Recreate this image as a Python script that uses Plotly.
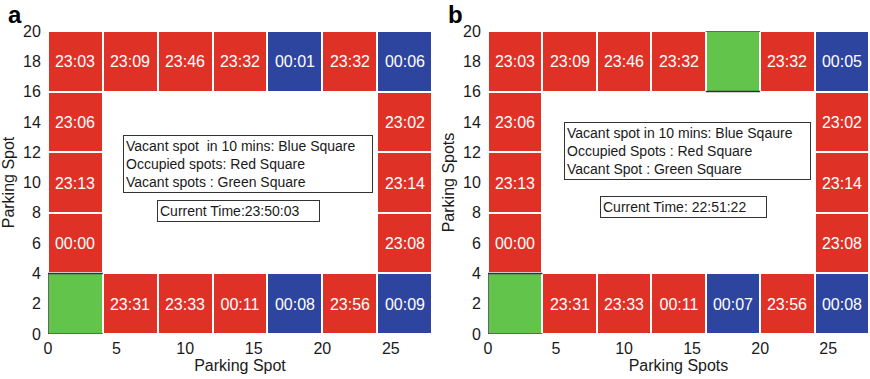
import plotly.graph_objects as go
from plotly.subplots import make_subplots

# ---------------- data ----------------
# grid of 5 rows (bottom -> top) x 7 columns (left -> right); None = no spot
col_centers = [2, 6, 10, 14, 18, 22, 26]
row_centers = [2, 6, 10, 14, 18]
CELL = 4
x_ticks = [0, 5, 10, 15, 20, 25]
y_ticks = [0, 2, 4, 6, 8, 10, 12, 14, 16, 18, 20]

# status: G = vacant (green), R = occupied (red), B = vacant in 10 mins (blue)
status_a = [
    ["G", "R", "R", "R", "B", "R", "B"],
    ["R", None, None, None, None, None, "R"],
    ["R", None, None, None, None, None, "R"],
    ["R", None, None, None, None, None, "R"],
    ["R", "R", "R", "R", "B", "R", "B"],
]
times_a = [
    ["", "23:31", "23:33", "00:11", "00:08", "23:56", "00:09"],
    ["00:00", "", "", "", "", "", "23:08"],
    ["23:13", "", "", "", "", "", "23:14"],
    ["23:06", "", "", "", "", "", "23:02"],
    ["23:03", "23:09", "23:46", "23:32", "00:01", "23:32", "00:06"],
]
status_b = [
    ["G", "R", "R", "R", "B", "R", "B"],
    ["R", None, None, None, None, None, "R"],
    ["R", None, None, None, None, None, "R"],
    ["R", None, None, None, None, None, "R"],
    ["R", "R", "R", "R", "G", "R", "B"],
]
times_b = [
    ["", "23:31", "23:33", "00:11", "00:07", "23:56", "00:08"],
    ["00:00", "", "", "", "", "", "23:08"],
    ["23:13", "", "", "", "", "", "23:14"],
    ["23:06", "", "", "", "", "", "23:02"],
    ["23:03", "23:09", "23:46", "23:32", "", "23:32", "00:05"],
]
legend_a = ["Vacant spot  in 10 mins: Blue Square", "Occupied spots: Red Square", "Vacant spots : Green Square"]
legend_b = ["Vacant spot in 10 mins: Blue Sqaure", "Occupied Spots : Red Square", "Vacant Spot : Green Square"]
time_a = "Current Time:23:50:03"
time_b = "Current Time: 22:51:22"
xtitle_a, ytitle_a = "Parking Spot", "Parking Spot"
xtitle_b, ytitle_b = "Parking Spots", "Parking Spots"

# ---------------- style ----------------
GREEN, RED, BLUE = "#62C44B", "#E03127", "#2E45A0"
code = {"G": 0, "R": 1, "B": 2}
cscale = [[0, GREEN], [0.25, GREEN], [0.25, RED], [0.75, RED], [0.75, BLUE], [1, BLUE]]
FONT = "Liberation Sans, Arial, Helvetica, sans-serif"

fig = make_subplots(rows=1, cols=2, horizontal_spacing=0.068)

def add_panel(status, times, col):
    z = [[(code[s] if s is not None else None) for s in row] for row in status]
    fig.add_trace(go.Heatmap(
        x=col_centers, y=row_centers, z=z, text=times,
        texttemplate="%{text}", textfont=dict(color="white", size=16, family=FONT),
        colorscale=cscale, zmin=0, zmax=2, showscale=False, xgap=2, ygap=2,
        hoverinfo="skip"), row=1, col=col)
    # dark edges of green (vacant) cells
    xs, ys = [], []
    for i, row in enumerate(status):
        for j, s in enumerate(row):
            if s == "G":
                cx, cy, h = col_centers[j], row_centers[i], CELL / 2
                xs += [cx - h, cx + h, None, cx - h, cx + h, None]
                ys += [cy - h, cy - h, None, cy + h, cy + h, None]
                if cx - h == 0:
                    xs += [cx - h, cx - h, None]
                    ys += [cy - h, cy + h, None]
    fig.add_trace(go.Scatter(x=xs, y=ys, mode="lines", line=dict(color="#333333", width=1.5),
                             hoverinfo="skip", showlegend=False), row=1, col=col)

add_panel(status_a, times_a, 1)
add_panel(status_b, times_b, 2)

axis_common = dict(showgrid=False, zeroline=False, showline=False, ticks="outside",
                   tickcolor="rgba(0,0,0,0)", tickfont=dict(size=16, family=FONT, color="#1a1a1a"))
fig.update_xaxes(range=[0, 28], tickvals=x_ticks, ticklen=0, **axis_common)
fig.update_yaxes(range=[0, 20], tickvals=y_ticks, ticklen=3, **axis_common)
fig.update_xaxes(title=dict(text=xtitle_a, font=dict(size=16, family=FONT, color="#1a1a1a"), standoff=0), row=1, col=1)
fig.update_xaxes(title=dict(text=xtitle_b, font=dict(size=16, family=FONT, color="#1a1a1a"), standoff=0), row=1, col=2)
fig.update_yaxes(title=dict(text=ytitle_a, font=dict(size=16, family=FONT, color="#1a1a1a"), standoff=4), row=1, col=1)
fig.update_yaxes(title=dict(text=ytitle_b, font=dict(size=16, family=FONT, color="#1a1a1a"), standoff=4), row=1, col=2)

W, H = 870, 379
ML, MR, MT, MB = 48, 1, 31, 45
fig.update_layout(width=W, height=H, margin=dict(l=ML, r=MR, t=MT, b=MB),
                  plot_bgcolor="white", paper_bgcolor="white", showlegend=False,
                  font=dict(family=FONT))
# domains: panel a 48-432 px, panel b 488-869 px
pw = W - ML - MR
fig.update_layout(xaxis=dict(domain=[0, (432 - ML) / pw]), xaxis2=dict(domain=[(488 - ML) / pw, 1]))

def px_to_paper(px, py):
    return (px - ML) / pw, 1 - (py - MT) / (H - MT - MB)

def box(text, left, top, width, size=14):
    x, y = px_to_paper(left, top)
    fig.add_annotation(x=x, y=y, xref="paper", yref="paper", xanchor="left", yanchor="top",
                       text=text, showarrow=False, align="left", width=width,
                       font=dict(size=size, family=FONT, color="#1a1a1a"),
                       bordercolor="#333333", borderwidth=1, borderpad=2, bgcolor="white")

box("<br>".join(legend_a), 123, 135, 244)
box(time_a, 157, 200, 157)
box("<br>".join(legend_b), 564, 122, 241)
box(time_b, 600, 196, 161)

for lab, px in [("a", 15), ("b", 455)]:
    x, y = px_to_paper(px, 14)
    fig.add_annotation(x=x, y=y, xref="paper", yref="paper", xanchor="center", yanchor="middle",
                       text="<b>" + lab + "</b>", showarrow=False,
                       font=dict(size=24, family=FONT, color="black"))

fig.write_html("out.html")
